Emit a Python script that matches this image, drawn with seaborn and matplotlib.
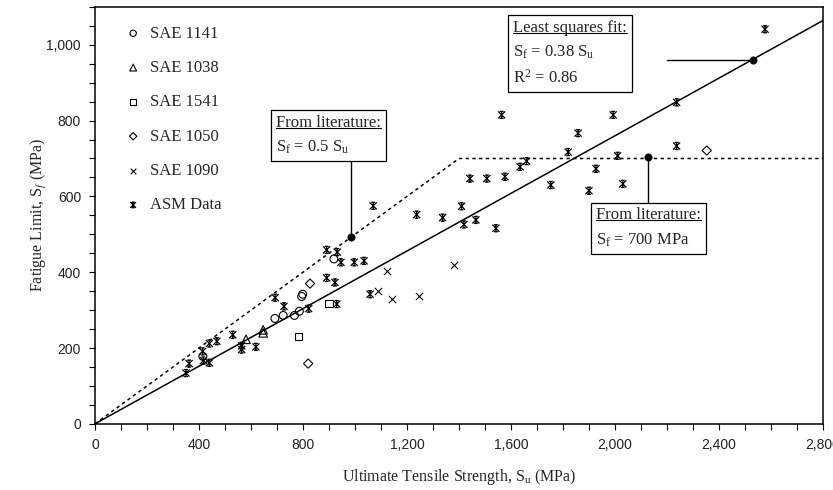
import numpy as np
import pandas as pd
import seaborn as sns
import matplotlib.pyplot as plt
from matplotlib.path import Path
from matplotlib.lines import Line2D
from matplotlib.ticker import MultipleLocator, FuncFormatter

# ==========================================
# Data: ultimate tensile strength (Su) vs fatigue limit (Sf), MPa
# ==========================================
sae1141_su = [415, 692, 724, 767, 786, 795, 799, 919]
sae1141_sf = [178, 278, 286, 286, 297, 336, 342, 435]

sae1038_su = [581, 647, 647]
sae1038_sf = [223, 248, 240]

sae1541_su = [783, 901]
sae1541_sf = [230, 317]

sae1050_su = [827, 820, 2353]
sae1050_sf = [370, 159, 721]

sae1090_su = [1090, 1122, 1141, 1247, 1381]
sae1090_sf = [351, 403, 329, 338, 418]

asm_su = [350, 362, 414, 417, 440, 440, 469, 530, 564, 564, 619, 693, 727, 822,
          891, 930, 923, 891, 932, 946, 997, 1035, 1070, 1058, 1237, 1337, 1410,
          1419, 1465, 1542, 1442, 1507, 1577, 1635, 1660, 1820, 2010, 1927, 2030,
          1900, 1753, 1858, 1564, 1993, 2237, 2237, 2577]
asm_sf = [134, 159, 191, 167, 161, 212, 218, 235, 206, 196, 203, 333, 310, 304,
          385, 316, 373, 459, 453, 426, 426, 430, 575, 342, 552, 544, 574,
          526, 538, 516, 647, 647, 652, 678, 693, 717, 707, 673, 633,
          615, 630, 767, 815, 815, 848, 733, 1041]

# fit line and literature line
fit_su = [0, 2800]
fit_sf = [0, 1064]
lit_su = [0, 1400, 2800]
lit_sf = [0, 700, 700]

# annotated points: 0.5 Su, least squares, 700 MPa
ann_su = [985, 2531, 2127]
ann_sf = [493, 960, 703]

# ==========================================
# Style
# ==========================================
sns.set_style('ticks')
plt.rcParams['font.family'] = ['Liberation Serif', 'DejaVu Serif']
plt.rcParams['mathtext.fontset'] = 'custom'
plt.rcParams['mathtext.rm'] = 'Liberation Serif'
plt.rcParams['mathtext.it'] = 'Liberation Serif:italic'
plt.rcParams['mathtext.default'] = 'regular'

fig, ax = plt.subplots(figsize=(8.33, 4.9), dpi=100)
fig.subplots_adjust(left=0.114, right=0.988, top=0.986, bottom=0.135)

# lines
sns.lineplot(x=fit_su, y=fit_sf, color='black', lw=1.1, ax=ax)
sns.lineplot(x=lit_su, y=lit_sf, color='black', lw=1.1, ax=ax)
ax.lines[-1].set_linestyle((0, (2.2, 2.2)))

# asterisk marker like the Excel star
star = Path([(-1, -1), (1, 1), (-1, 1), (1, -1), (0, -1), (0, 1),
             (-0.55, 1), (0.55, 1), (-0.55, -1), (0.55, -1)],
            [Path.MOVETO, Path.LINETO] * 5)

hollow = dict(facecolor='none', edgecolor='black', linewidth=0.8, zorder=4)
sns.scatterplot(x=sae1141_su, y=sae1141_sf, marker='o', s=32, label='SAE 1141', ax=ax, **hollow)
sns.scatterplot(x=sae1038_su, y=sae1038_sf, marker='^', s=38, label='SAE 1038', ax=ax, **hollow)
sns.scatterplot(x=sae1541_su, y=sae1541_sf, marker='s', s=30, label='SAE 1541', ax=ax, **hollow)
sns.scatterplot(x=sae1050_su, y=sae1050_sf, marker='D', s=22, label='SAE 1050', ax=ax, **hollow)
sns.scatterplot(x=sae1090_su, y=sae1090_sf, marker='x', s=26, color='black', linewidth=0.8,
                label='SAE 1090', ax=ax, zorder=4)
sns.scatterplot(x=asm_su, y=asm_sf, marker=star, s=26, facecolor='none', edgecolor='black',
                linewidth=0.9, label='ASM Data', ax=ax, zorder=4)

# annotated dots
sns.scatterplot(x=ann_su, y=ann_sf, color='black', s=28, edgecolor='black', ax=ax, zorder=5)

# connectors (boxes are drawn on top and hide the inner part)
ax.plot([ann_su[0], ann_su[0]], [ann_sf[0], 760], color='black', lw=1, zorder=2)
ax.plot([ann_su[1], 2200], [ann_sf[1], ann_sf[1]], color='black', lw=1, zorder=2)
ax.plot([ann_su[2], ann_su[2]], [ann_sf[2], 520], color='black', lw=1, zorder=2)

box = dict(boxstyle='square,pad=0.3', fc='white', ec='black', lw=0.9)
boxes = [
    (695, 816, 'From literature:', 'From literature:\nS$_f$ = 0.5 S$_u$'),
    (1608, 1066, 'Least squares fit:', 'Least squares fit:\nS$_f$ = 0.38 S$_u$\nR$^2$ = 0.86'),
    (1927, 571, 'From literature:', 'From literature:\nS$_f$ = 700 MPa'),
]
for bx, by, first, txt in boxes:
    ax.text(bx, by, txt, ha='left', va='top', fontsize=12, linespacing=1.6, bbox=box, zorder=6)

# ==========================================
# Axes
# ==========================================
ax.set_xlim(0, 2800)
ax.set_ylim(0, 1100)
ax.xaxis.set_major_locator(MultipleLocator(400))
ax.xaxis.set_minor_locator(MultipleLocator(100))
ax.yaxis.set_major_locator(MultipleLocator(200))
ax.yaxis.set_minor_locator(MultipleLocator(50))
fmt = FuncFormatter(lambda v, p: f'{v:,.0f}')
ax.xaxis.set_major_formatter(fmt)
ax.yaxis.set_major_formatter(fmt)
ax.tick_params(which='both', direction='out', length=4, width=0.8, color='black')
ax.tick_params(which='major', labelsize=10, labelcolor='#222222', pad=6,
               labelfontfamily='Liberation Sans')
for sp in ax.spines.values():
    sp.set_visible(True)
    sp.set_linewidth(1.1)
    sp.set_color('black')

ax.set_xlabel('Ultimate Tensile Strength, S$_u$ (MPa)', fontsize=11.5, labelpad=11)
ax.set_ylabel('Fatigue Limit, S$_{\\it f}$ (MPa)', fontsize=11.5, labelpad=-1)

handles, labels = ax.get_legend_handles_labels()
ax.legend(handles[:6], labels[:6], loc='upper left', bbox_to_anchor=(0.041, 0.955),
          frameon=False, fontsize=12, labelspacing=1.1, handlelength=1.0,
          handletextpad=0.5, borderpad=0, borderaxespad=0, markerscale=0.8)

# underline first line of each box
fig.canvas.draw()
renderer = fig.canvas.get_renderer()
for bx, by, first, txt in boxes:
    tmp = ax.text(bx, by, first, ha='left', va='top', fontsize=12)
    bb = tmp.get_window_extent(renderer)
    tmp.remove()
    pts = fig.transFigure.inverted().transform([(bb.x0, bb.y0 + 3), (bb.x1, bb.y0 + 3)])
    fig.add_artist(Line2D(pts[:, 0], pts[:, 1], color='black', lw=0.8, zorder=10))

fig.savefig('out.png', dpi=100)
